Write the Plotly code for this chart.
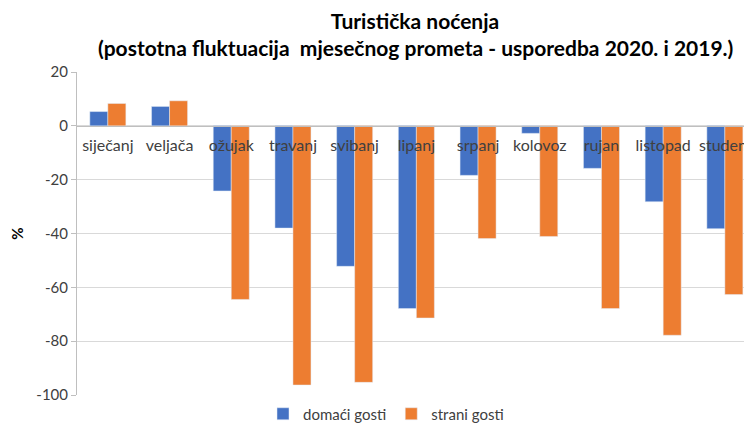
import plotly.graph_objects as go

months = ["siječanj", "veljača", "ožujak", "travanj", "svibanj", "lipanj",
          "srpanj", "kolovoz", "rujan", "listopad", "studeni"]
domaci = [5.3, 7.2, -24.2, -38.0, -52.2, -67.9, -18.4, -2.8, -15.8, -28.2, -38.2]
strani = [8.3, 9.3, -64.5, -96.3, -95.3, -71.4, -41.9, -41.1, -67.9, -77.8, -62.7]
y_ticks = [20, 0, -20, -40, -60, -80, -100]
y_tick_labels = ["20", "0", "-20", "-40", "-60", "-80", "-100"]
title_1 = "Turistička noćenja"
title_2 = "(postotna fluktuacija  mjesečnog prometa - usporedba 2020. i 2019.)"

FONT = "Lato, Carlito, sans-serif"
W, H = 744, 425
L, T, B = 77, 72, 30
PW, PH = W - L, H - T - B

fig = go.Figure()
fig.add_trace(go.Bar(x=months, y=domaci, name="domaći gosti", marker_color="#4472C4"))
fig.add_trace(go.Bar(x=months, y=strani, name="strani gosti", marker_color="#ED7D31"))

fig.add_annotation(
    text=title_2, xref="paper", yref="paper",
    x=(415 - L) / PW, y=(T + PH - 47) / PH, xanchor="center", yanchor="middle",
    showarrow=False, font=dict(family=FONT, size=21, color="#000000", weight="bold"),
)

fig.update_layout(
    width=W, height=H,
    margin=dict(l=L, r=0, t=T, b=B, autoexpand=False),
    paper_bgcolor="white", plot_bgcolor="white",
    font=dict(family=FONT, color="#404040", size=13),
    barmode="group", bargap=0.416, bargroupgap=0,
    title=dict(
        text=title_1,
        x=415 / W, xanchor="center", xref="container",
        y=1 - 22 / H, yanchor="middle", yref="container",
        font=dict(family=FONT, size=21, color="#000000", weight="bold"),
    ),
    legend=dict(
        orientation="h", x=386 / W, xanchor="center", xref="container",
        y=-(414 - (T + PH)) / PH, yanchor="middle", yref="paper",
        font=dict(family=FONT, size=15, color="#404040"),
        traceorder="normal",
    ),
    xaxis=dict(
        range=[-0.5, 10.31], type="category", automargin=False,
        anchor="free", position=100 / 120,
        showline=True, linecolor="#bfbfbf", linewidth=1,
        ticks="outside", ticklen=5, tickcolor="rgba(0,0,0,0)", showgrid=False,
        tickfont=dict(family=FONT, size=16, color="#404040"),
    ),
    yaxis=dict(
        range=[-100, 20], tickvals=y_ticks, ticktext=y_tick_labels, automargin=False,
        showgrid=True, gridcolor="#d9d9d9", gridwidth=1,
        zeroline=False,
        showline=True, linecolor="#bfbfbf", linewidth=1,
        ticks="outside", ticklen=5, tickcolor="#bfbfbf",
        tickfont=dict(family=FONT, size=15, color="#404040"),
        title=dict(text="%", font=dict(family=FONT, size=15, color="#000000", weight="bold"), standoff=9),
    ),
)

fig.write_html(
    "out.html",
    config={"displayModeBar": False},
    post_script="document.body.style.margin='0';document.body.style.overflow='hidden';",
)
